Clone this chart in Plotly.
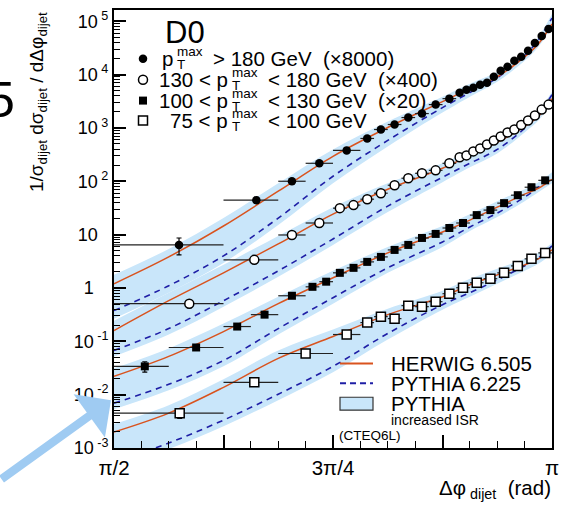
import numpy as np
import plotly.graph_objects as go

# ---------------------------------------------------------------------------
# Measured spectra (1/sigma dsigma/dDeltaphi), already multiplied by the
# factors quoted in the legend.  Delta-phi bin edges and marker positions are
# given in units of pi/128.
# ---------------------------------------------------------------------------
edges_180 = [64, 80, 88, 92, 96, 100, 102, 104, 106, 108, 110, 112, 114, 115, 116,
             117, 118, 119, 120, 121, 122, 123, 124, 125, 126, 127, 128]
xpos_180 = [73.5, 84.8, 90, 94, 98, 101, 103, 105, 107, 109, 111, 113, 114.5, 115.5,
            116.5, 117.5, 118.5, 119.5, 120.5, 121.5, 122.5, 123.5, 124.5, 125.5, 126.5, 127.5]
vals_180 = [6.4, 44.2, 100, 217, 379, 634, 933, 1157, 1563, 1857, 2733, 3538, 4575,
            5203, 5670, 6456, 7034, 9100, 11780, 13990, 18080, 21480, 27800, 39200,
            52900, 71500]
relerr_180 = [0.35, 0.13, 0.10, 0.07, 0.06, 0.05, 0.05, 0.05, 0.04, 0.04, 0.04, 0.04,
              0.04, 0.04, 0.04, 0.03, 0.03, 0.03, 0.03, 0.03, 0.03, 0.03, 0.03, 0.03,
              0.03, 0.03]

edges_130 = [64, 80, 88, 92, 96, 98, 100, 102, 104, 106, 108, 110, 112, 114, 115, 116,
             117, 118, 119, 120, 121, 122, 123, 124, 125, 126, 127, 128]
xpos_130 = [75, 84.5, 90, 94, 97, 99, 101, 103, 105, 107, 109, 111, 113, 114.5, 115.5,
            116.5, 117.5, 118.5, 119.5, 120.5, 121.5, 122.5, 123.5, 124.5, 125.5, 126.5,
            127.5]
vals_130 = [0.507, 3.36, 9.84, 16.5, 31.3, 35.7, 46.1, 59.7, 84.2, 114, 141, 160, 217,
            281, 305, 363, 413, 490, 582, 692, 821, 933, 1133, 1374, 1703, 2204, 2733]
relerr_130 = [0.16, 0.09, 0.06, 0.05, 0.05, 0.05, 0.04, 0.04, 0.04, 0.04, 0.04, 0.04,
              0.04, 0.03, 0.03, 0.03, 0.03, 0.03, 0.03, 0.03, 0.03, 0.03, 0.03, 0.03,
              0.03, 0.03, 0.03]

edges_100 = [64, 72, 80, 84, 88, 92, 94, 96, 98, 100, 102, 104, 106, 108, 110, 112, 114,
             116, 118, 120, 122, 124, 126, 128]
xpos_100 = [68.5, 76, 82, 86, 90, 93, 95, 97, 99, 101, 103, 105, 107, 109, 111, 113,
            115, 117, 119, 121, 123, 125, 127]
vals_100 = [0.0339, 0.0766, 0.189, 0.316, 0.714, 1.05, 1.31, 1.92, 2.38, 3.08, 3.82,
            5.16, 6.40, 8.65, 10.3, 13.3, 16.5, 23.2, 28.8, 38.9, 54.8, 77.3, 104]
relerr_100 = [0.22, 0.10, 0.07, 0.05, 0.05, 0.04, 0.04, 0.04, 0.04, 0.04, 0.04, 0.03,
              0.03, 0.03, 0.03, 0.03, 0.03, 0.03, 0.03, 0.03, 0.03, 0.03, 0.03]

edges_75 = [64, 80, 88, 96, 100, 102, 104, 106, 108, 110, 112, 114, 116, 118, 120, 122,
            124, 126, 128]
xpos_75 = [73.6, 84.5, 92, 98, 101, 103, 105, 107, 109, 111, 113, 115, 117, 119, 121,
           123, 125, 127]
vals_75 = [0.0045, 0.0170, 0.0591, 0.134, 0.224, 0.290, 0.266, 0.466, 0.446, 0.553,
           0.780, 1.01, 1.25, 1.49, 1.92, 2.59, 3.51, 4.54]
relerr_75 = [0.20, 0.12, 0.08, 0.06, 0.05, 0.05, 0.05, 0.04, 0.04, 0.04, 0.04, 0.03,
             0.03, 0.03, 0.03, 0.03, 0.03, 0.03]

# ---------------------------------------------------------------------------
# Monte Carlo predictions on a common Delta-phi grid (units of pi/128)
# ---------------------------------------------------------------------------
mc_x = [64, 72, 80, 88, 96, 104, 112, 116, 120, 124, 126, 128]

herwig_180 = [1.20, 3.82, 14.5, 65.1, 293, 1017, 3108, 5434, 9100, 21490, 37550, 88650]
pythia_180 = [0.376, 1.10, 3.99, 20.4, 124, 582, 2402, 4576, 8716, 22420, 44600, 114700]
isr_hi_180 = [1.76, 5.39, 20.4, 91.8, 395, 1316, 3853, 6737, 11280, 26640, 50730, 136200]
isr_lo_180 = [0.266, 0.814, 2.95, 15.1, 91.8, 450, 1938, 3853, 7340, 18090, 33000, 77960]

herwig_130 = [0.159, 0.577, 1.92, 6.68, 24.2, 70.9, 175, 306, 534, 1062, 1632, 3535]
pythia_130 = [0.0674, 0.173, 0.577, 2.09, 8.28, 34.2, 119, 217, 395, 975, 1778, 4200]
isr_hi_130 = [0.244, 0.814, 2.71, 9.42, 32.7, 91.8, 217, 379, 662, 1316, 2112, 4778]
isr_lo_130 = [0.0521, 0.134, 0.446, 1.62, 6.40, 26.4, 95.8, 183, 333, 821, 1374, 3108]

herwig_100 = [0.0220, 0.0521, 0.152, 0.507, 1.55, 4.54, 11.2, 18.7, 32.7, 57.2, 74.0, 109]
pythia_100 = [0.00691, 0.0156, 0.0438, 0.173, 0.657, 2.38, 7.28, 13.9, 25.3, 50.3, 77.3, 124]
isr_hi_100 = [0.0311, 0.0734, 0.215, 0.685, 2.09, 5.87, 14.5, 24.2, 42.4, 70.9, 95.8, 147]
isr_lo_100 = [0.00534, 0.0121, 0.0339, 0.134, 0.507, 1.92, 5.87, 11.7, 21.3, 42.4, 62.3, 91.8]

herwig_75 = [0.00199, 0.0045, 0.0137, 0.0478, 0.123, 0.316, 0.685, 1.15, 1.76, 2.71, 3.51, 5.16]
pythia_75 = [0.000548, 0.00124, 0.00333, 0.0102, 0.0339, 0.140, 0.486, 0.814, 1.42, 2.59, 3.66, 6.13]
isr_hi_75 = [0.00281, 0.00634, 0.0194, 0.0674, 0.166, 0.409, 0.887, 1.48, 2.28, 3.51, 4.54, 6.97]
isr_lo_75 = [0.000423, 0.000958, 0.00257, 0.00786, 0.0262, 0.108, 0.392, 0.685, 1.20, 2.09, 2.83, 4.35]

# legend texts
row_prefix = ["", "130 < p", "100 < p", "75 < p"]
row_suffix = ["> 180 GeV  (\u00d78000)", "< 180 GeV  (\u00d7400)",
              "< 130 GeV  (\u00d720)", "< 100 GeV"]
HIDE = "<span style='color:rgba(0,0,0,0)'>"
y_ticks = [1e-3, 1e-2, 1e-1, 1, 10, 1e2, 1e3, 1e4, 1e5]
y_ticktext = ["10<sup>\u00a0-3</sup>", "10<sup>\u00a0-2</sup>", "10<sup>\u00a0-1</sup>",
              "1<sup>" + HIDE + "\u00a0-1</span></sup>",
              "10<sup>" + HIDE + "\u00a02</span></sup>",
              "10<sup>\u00a02</sup>", "10<sup>\u00a03</sup>", "10<sup>\u00a04</sup>",
              "10<sup>\u00a05</sup>"]
x_ticks_pi = [1/2, 5/8, 3/4, 7/8, 1]
x_ticktext = ["\u03c0/2", "\u00a0", "3\u03c0/4", "\u00a0", "\u03c0"]

# ---------------------------------------------------------------------------
W, H = 571, 505
L, R, T, B = 114, 552, 8, 448          # plot frame in page pixels
FONT = "Liberation Sans, Arial, Helvetica, sans-serif"
BAND = "#c9e6fa"
ORANGE = "#d9531e"
BLUE = "#1f1fa6"


def px(xp):
    return (xp - L) / (R - L)


def py(yp):
    return (B - yp) / (B - T)


def rad(v):
    return np.asarray(v, dtype=float) * np.pi / 128.0


fig = go.Figure()

series = [
    (mc_x, herwig_180, pythia_180, isr_lo_180, isr_hi_180),
    (mc_x, herwig_130, pythia_130, isr_lo_130, isr_hi_130),
    (mc_x, herwig_100, pythia_100, isr_lo_100, isr_hi_100),
    (mc_x, herwig_75, pythia_75, isr_lo_75, isr_hi_75),
]

# bands first
for gx, hw, py6, lo, hi in series:
    fig.add_trace(go.Scatter(x=rad(gx), y=lo, mode="lines", line=dict(width=0, shape="spline"),
                             hoverinfo="skip", showlegend=False))
    fig.add_trace(go.Scatter(x=rad(gx), y=hi, mode="lines", line=dict(width=0, shape="spline"),
                             fill="tonexty", fillcolor=BAND, hoverinfo="skip", showlegend=False))

for gx, hw, py6, lo, hi in series:
    fig.add_trace(go.Scatter(x=rad(gx), y=py6, mode="lines",
                             line=dict(color=BLUE, width=1.6, dash="6px,5px", shape="spline"),
                             hoverinfo="skip", showlegend=False))
    fig.add_trace(go.Scatter(x=rad(gx), y=hw, mode="lines",
                             line=dict(color=ORANGE, width=1.5, shape="spline"),
                             hoverinfo="skip", showlegend=False))

data_sets = [
    (edges_180, xpos_180, vals_180, relerr_180, dict(symbol="circle", size=8.5, color="black")),
    (edges_130, xpos_130, vals_130, relerr_130,
     dict(symbol="circle", size=9, color="white", line=dict(color="black", width=1.5))),
    (edges_100, xpos_100, vals_100, relerr_100, dict(symbol="square", size=8, color="black")),
    (edges_75, xpos_75, vals_75, relerr_75,
     dict(symbol="square", size=9, color="white", line=dict(color="black", width=1.5))),
]

for edges, xpos, vals, rel, marker in data_sets:
    e = rad(edges)
    x = rad(xpos)
    y = np.asarray(vals, dtype=float)
    err = y * np.asarray(rel)
    fig.add_trace(go.Scatter(
        x=x, y=y, mode="markers", marker=marker, showlegend=False,
        error_x=dict(type="data", symmetric=False, array=e[1:] - x, arrayminus=x - e[:-1],
                     color="#222222", thickness=1.2, width=0),
        error_y=dict(type="data", array=err, color="black", thickness=1.2, width=2.5),
    ))

# legend markers on an overlay frame with page-like coordinates
leg_rows_y = [57, 78, 99, 119]
for (edges, xpos, vals, rel, marker), ry in zip(data_sets, leg_rows_y):
    fig.add_trace(go.Scatter(x=[143], y=[ry], mode="markers", marker=marker,
                             xaxis="x2", yaxis="y2", showlegend=False, hoverinfo="skip"))

annotations = []


def text(x, y, s, size=20.5, xanchor="left", yanchor="middle", **kw):
    annotations.append(dict(x=px(x), y=py(y), xref="paper", yref="paper", text=s,
                            showarrow=False, xanchor=xanchor, yanchor=yanchor,
                            font=dict(family=FONT, size=size, color="black"), **kw))


text(163, 31, "D0", size=31)
p_end = [175, 230, 230, 230]
for i, ry in enumerate(leg_rows_y):
    pe = p_end[i]
    text(pe, ry, row_prefix[i] + ("" if i else "p"), xanchor="right")
    text(pe, ry - 7, "max", size=13.5)
    text(pe, ry + 6, "T", size=13.5)
    text(pe + 36, ry, row_suffix[i])

# lower right legend
text(389, 363, "HERWIG 6.505")
text(389, 383, "PYTHIA 6.225")
text(389, 403, "PYTHIA")
text(389, 420, "increased ISR", size=14)
text(337, 435, "(CTEQ6L)", size=13.5)

# axis titles
text(38, 8, "1/\u03c3<sub>dijet</sub> d\u03c3<sub>dijet</sub> / d\u0394\u03c6<sub>dijet</sub>",
     size=19, xanchor="center", yanchor="top", textangle=-90)
text(553, 489, "\u0394\u03c6<sub> dijet</sub>  (rad)", xanchor="right")

# big glyph at the left edge
text(17, 98, "5", size=50, xanchor="right")

# pointer arrow
annotations.append(dict(x=px(111), y=py(400), xref="paper", yref="paper", text="",
                        showarrow=True, ax=-122, ay=80, arrowhead=1, arrowsize=1.05,
                        arrowwidth=8.5, arrowcolor="#9fcbf2", standoff=0))

shapes = [
    dict(type="line", xref="paper", yref="paper", x0=px(340), x1=px(373), y0=py(363), y1=py(363),
         line=dict(color=ORANGE, width=2)),
    dict(type="line", xref="paper", yref="paper", x0=px(340), x1=px(373), y0=py(383), y1=py(383),
         line=dict(color=BLUE, width=2, dash="6px,4px")),
    dict(type="rect", xref="paper", yref="paper", x0=px(340), x1=px(373), y0=py(410), y1=py(397),
         fillcolor=BAND, line=dict(color="#333333", width=1.2)),
]

fig.update_layout(
    width=W, height=H,
    margin=dict(l=L, r=W - R, t=T, b=H - B, pad=0),
    paper_bgcolor="white", plot_bgcolor="white",
    showlegend=False,
    annotations=annotations,
    shapes=shapes,
    xaxis=dict(range=[np.pi / 2, np.pi], tickmode="array",
               tickvals=[v * np.pi for v in x_ticks_pi],
               ticktext=x_ticktext, ticks="inside", ticklen=13, tickwidth=1.5,
               tickcolor="black", showline=True, linecolor="black", linewidth=2,
               mirror=True, showgrid=False, zeroline=False, layer="above traces",
               tickfont=dict(family=FONT, size=20.5, color="black"),
               minor=dict(tickmode="linear", tick0=np.pi / 2, dtick=np.pi / 32,
                          ticks="inside", ticklen=7, tickwidth=1.2,
                          tickcolor="black", showgrid=False)),
    yaxis=dict(type="log", range=[-3, 5.21], tickmode="array", tickvals=y_ticks,
               ticktext=y_ticktext,
               ticks="inside", ticklen=12, tickwidth=1.5, tickcolor="black",
               showline=True, linecolor="black", linewidth=2, mirror=True,
               showgrid=False, zeroline=False, layer="above traces",
               tickfont=dict(family=FONT, size=18, color="black"),
               minor=dict(dtick="D1", ticks="inside", ticklen=6, tickwidth=1.2,
                          tickcolor="black", showgrid=False)),
    xaxis2=dict(overlaying="x", range=[L, R], visible=False, fixedrange=True),
    yaxis2=dict(overlaying="y", range=[B, T], visible=False, fixedrange=True),
)

fig.write_html("out.html")
